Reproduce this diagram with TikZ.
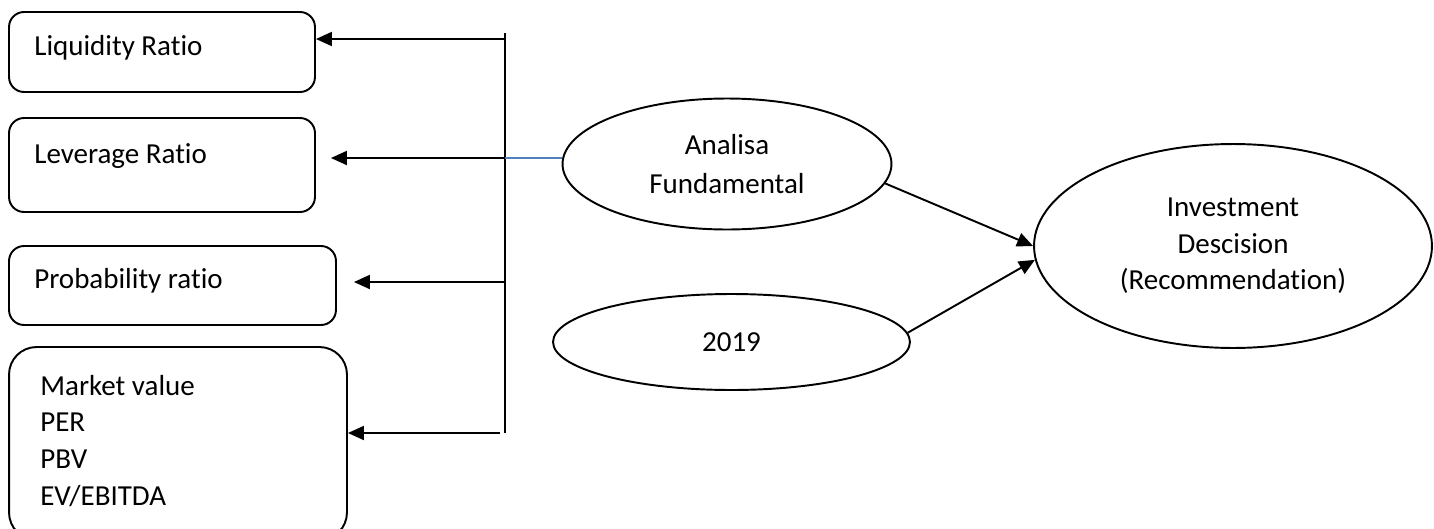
\documentclass[tikz,border=0pt]{standalone}
\usepackage{fontspec}
\setmainfont{Carlito}[Ligatures=NoCommon]
\usetikzlibrary{arrows.meta,shapes.geometric}
\definecolor{linkblue}{RGB}{79,129,189}
\tikzset{
  ratiobox/.style={draw, line width=1.1pt, rounded corners=0.3cm, inner sep=0pt},
  oval/.style={draw, ellipse, line width=1.1pt, inner sep=0pt, align=center},
  txt/.style={inner sep=0pt, align=left},
  arr/.style={-{Triangle[length=0.32cm,width=0.28cm]}, line width=1.1pt},
}
\begin{document}
\begin{tikzpicture}[x=0.02cm,y=-0.02cm,
    every node/.style={font=\fontsize{16.5}{20.8}\selectfont}]
  \useasboundingbox (0,0) rectangle (1434,528);
  \clip (0,0) rectangle (1434,528);
  % ratio boxes
  \node[ratiobox, minimum width=6.12cm, minimum height=1.6cm] (liq) at (162,52) {};
  \node[ratiobox, minimum width=6.12cm, minimum height=1.88cm] (lev) at (162,165) {};
  \node[ratiobox, minimum width=6.54cm, minimum height=1.58cm] (prob) at (172.5,285.5) {};
  \node[ratiobox, rounded corners=0.55cm, minimum width=6.76cm, minimum height=3.86cm] (mkt) at (178,443.5) {};
  \node[txt, anchor=base west] (liqt) at (34,55) {Liquidity Ratio};
  \node[txt, anchor=base west] (levt) at (34,163) {Leverage Ratio};
  \node[txt, anchor=base west] (probt) at (34,288) {Probability ratio};
  \node[txt, anchor=base west] (mktt) at (40,505) {Market value\\PER\\PBV\\EV/EBITDA};
  % ovals
  \node[oval, minimum width=6.58cm, minimum height=2.62cm,
    font=\fontsize{16.5}{22.7}\selectfont] (ana) at (727,164) {Analisa\\Fundamental};
  \node[oval, minimum width=7.14cm, minimum height=1.92cm] (yr) at (731.5,342) {2019};
  \node[oval, minimum width=7.96cm, minimum height=4.08cm] (inv) at (1233,246)
    {Investment\\Descision\\(Recommendation)};
  % bus
  \coordinate (top) at (505,33);
  \coordinate (b1) at (505,39);
  \coordinate (b2) at (505,158);
  \coordinate (b3) at (505,282);
  \coordinate (bot) at (505,433);
  \coordinate (b4) at (500,433);
  \draw[line width=1.1pt] (top) -- (bot);
  \draw[arr] (b1) -- (b1 -| liq.east);
  \draw[arr, shorten >=0.3cm] (b2) -- (b2 -| lev.east);
  \draw[arr, shorten >=0.34cm] (b3) -- (b3 -| prob.east);
  \draw[arr] (b4) -- (b4 -| mkt.east);
  \draw[linkblue, line width=1.1pt] (b2) -- (b2 -| ana.west);
  % to decision
  \draw[arr] (ana.-7) -- (inv.west);
  \draw[arr] (yr.3) -- (inv.184);
\end{tikzpicture}
\end{document}
